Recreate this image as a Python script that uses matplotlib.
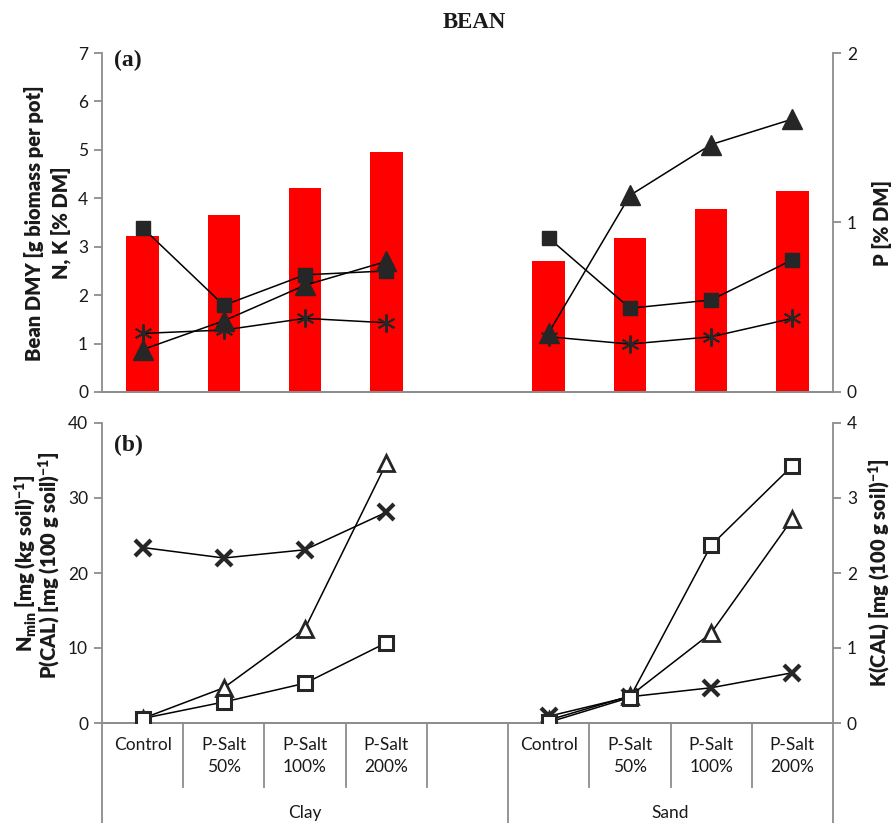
import matplotlib.pyplot as plt
import numpy as np

plt.rcParams['font.family'] = ['Lato', 'DejaVu Sans']
plt.rcParams['mathtext.default'] = 'regular'

treatments = ['Control', 'P-Salt\n50%', 'P-Salt\n100%', 'P-Salt\n200%']
soils = ['Clay', 'Sand']

# (a) plant: dry matter yield and N, K (left), P (right)
dmy_clay = [3.23, 3.66, 4.21, 4.96]
dmy_sand = [2.71, 3.17, 3.78, 4.15]
n_clay = [3.39, 1.79, 2.42, 2.50]
n_sand = [3.18, 1.73, 1.90, 2.73]
k_clay = [1.21, 1.28, 1.52, 1.43]
k_sand = [1.14, 0.99, 1.14, 1.52]
p_clay = [0.25, 0.42, 0.63, 0.77]
p_sand = [0.35, 1.16, 1.46, 1.61]

# (b) soil: Nmin, P(CAL) (left), K(CAL) (right)
nmin_clay = [23.4, 22.0, 23.1, 28.1]
nmin_sand = [0.9, 3.5, 4.7, 6.7]
pcal_clay = [0.6, 4.7, 12.6, 34.6]
pcal_sand = [0.4, 3.6, 12.0, 27.2]
kcal_clay = [0.06, 0.28, 0.53, 1.07]
kcal_sand = [0.01, 0.34, 2.37, 3.43]

W, H = 893, 823
GRAY = '#8c8c8c'
MK = '#262626'
TXT = '#1a1a1a'

x_clay = np.arange(4)
x_sand = np.arange(4) + 5

fig = plt.figure(figsize=(W / 100, H / 100), dpi=100)

def px_axes(left, top, right, bottom):
    return fig.add_axes([left / W, 1 - bottom / H, (right - left) / W, (bottom - top) / H])

def style_axes(ax, axr):
    for a in (ax, axr):
        for s in a.spines.values():
            s.set_color(GRAY)
            s.set_linewidth(1.3)
        a.spines['top'].set_visible(False)
        a.tick_params(axis='y', colors=GRAY, labelcolor=TXT, labelsize=12.5,
                      length=6, width=1.3, direction='out', pad=4)
    ax.spines['right'].set_visible(False)
    axr.spines['left'].set_visible(False)
    ax.set_xlim(-0.5, 8.5)
    ax.set_xticks([])
    axr.set_xticks([])

# ---- panel (a)
ax1 = px_axes(102, 53, 833, 392)
ax1r = ax1.twinx()
ax1.bar(x_clay, dmy_clay, width=0.4, color='#ff0000', zorder=1)
ax1.bar(x_sand, dmy_sand, width=0.4, color='#ff0000', zorder=1)
for xs, n, k in ((x_clay, n_clay, k_clay), (x_sand, n_sand, k_sand)):
    ax1.plot(xs, n, '-', color='black', lw=1.1, marker='s', ms=10,
             mfc=MK, mec=MK, zorder=3)
    ax1.plot(xs, k, '-', color='black', lw=1.1, marker=(6, 2, 0), ms=13,
             mfc=MK, mec=MK, mew=1.4, zorder=3)
for xs, p in ((x_clay, p_clay), (x_sand, p_sand)):
    ax1r.plot(xs, p, '-', color='black', lw=1.1, marker='^', ms=14,
              mfc=MK, mec=MK, zorder=3)
ax1.set_ylim(0, 7)
ax1.set_yticks(range(8))
ax1r.set_ylim(0, 2)
ax1r.set_yticks([0, 1, 2])
style_axes(ax1, ax1r)

# ---- panel (b)
ax2 = px_axes(102, 423, 833, 723)
ax2r = ax2.twinx()
for xs, nm, pc in ((x_clay, nmin_clay, pcal_clay), (x_sand, nmin_sand, pcal_sand)):
    ax2.plot(xs, nm, '-', color='black', lw=1.1, marker='x', ms=11,
             mec=MK, mew=3, zorder=3)
    ax2.plot(xs, pc, '-', color='black', lw=1.1, marker='^', ms=12,
             mfc='white', mec=MK, mew=2, zorder=3)
for xs, kc in ((x_clay, kcal_clay), (x_sand, kcal_sand)):
    ax2r.plot(xs, kc, '-', color='black', lw=1.1, marker='s', ms=10,
              mfc='white', mec=MK, mew=2.2, zorder=3)
ax2.set_ylim(0, 40)
ax2.set_yticks([0, 10, 20, 30, 40])
ax2r.set_ylim(0, 4)
ax2r.set_yticks([0, 1, 2, 3, 4])
style_axes(ax2, ax2r)

# category table below panel (b)
tr = ax2.get_xaxis_transform()
short_y = -64 / 300
long_y = -100 / 300
for b in [0.5, 1.5, 2.5, 3.5, 5.5, 6.5, 7.5]:
    ax2.plot([b, b], [0, short_y], color=GRAY, lw=1.3, transform=tr, clip_on=False)
for b in [-0.5, 4.5, 8.5]:
    ax2.plot([b, b], [0, long_y], color=GRAY, lw=1.3, transform=tr, clip_on=False)
for xs in (x_clay, x_sand):
    for xi, lab in zip(xs, treatments):
        ax2.text(xi, -14 / 300, lab, transform=tr, ha='center', va='top',
                 fontsize=12.5, color=TXT, linespacing=1.45)
ax2.text(2.0, -90 / 300, soils[0], transform=tr, ha='center', va='center',
         fontsize=12.5, color=TXT)
ax2.text(6.5, -90 / 300, soils[1], transform=tr, ha='center', va='center',
         fontsize=12.5, color=TXT)

# axis titles
def ftext(x, y, s, **kw):
    fig.text(x / W, 1 - y / H, s, **kw)

lab_kw = dict(rotation=90, ha='center', va='center', fontsize=14.5,
              fontweight='heavy', color=TXT)
ftext(34, 223, 'Bean DMY [g biomass per pot]', **lab_kw)
ftext(61, 223, 'N, K [% DM]', **lab_kw)
ftext(882, 223, 'P [% DM]', **lab_kw)
ftext(26, 563, r'N$_{min}$ [mg (kg soil)$^{-1}$]', **lab_kw)
ftext(50, 565, r'P(CAL) [mg (100 g soil)$^{-1}$]', **lab_kw)
ftext(880, 573, r'K(CAL) [mg (100 g soil)$^{-1}$]', **lab_kw)

serif = dict(family=['Liberation Serif', 'DejaVu Serif'], fontweight='bold', color=TXT)
ftext(474, 22, 'BEAN', ha='center', va='center', fontsize=16.5, **serif)
ftext(114, 60, '(a)', ha='left', va='center', fontsize=17, **serif)
ftext(114, 445, '(b)', ha='left', va='center', fontsize=17, **serif)

fig.savefig('out.png', dpi=100)
